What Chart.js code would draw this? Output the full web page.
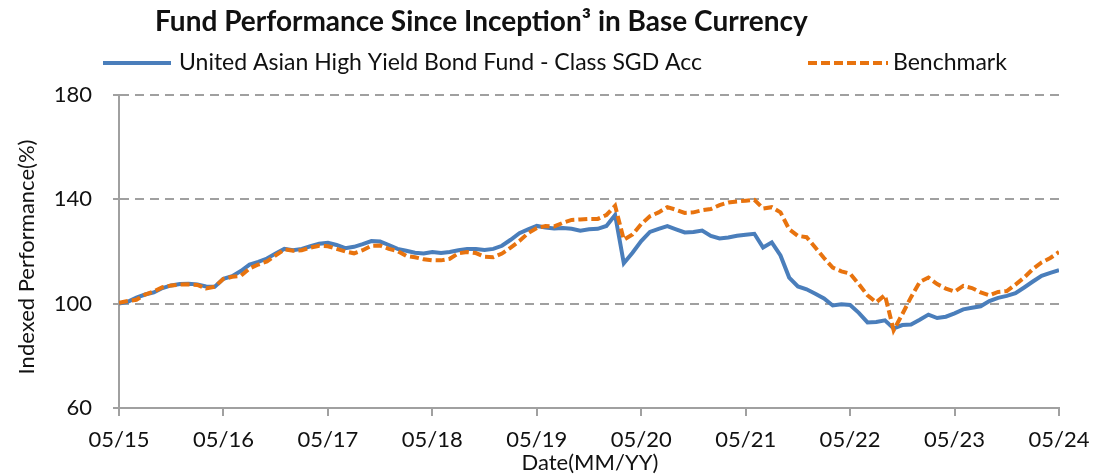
<!DOCTYPE html>
<html>
<head>
<meta charset="utf-8">
<script src="https://cdn.jsdelivr.net/npm/chart.js@4"></script>
<style>
  html, body { margin: 0; padding: 0; background: #fff; }
  #wrap { width: 1094px; height: 474px; }
</style>
</head>
<body>
<div id="wrap"><canvas id="perfChart"></canvas></div>
<script>
// tick labels, one per year (every 12 monthly points)
const tickLabels = ["05/15", "05/16", "05/17", "05/18", "05/19", "05/20", "05/21", "05/22", "05/23", "05/24"];

// monthly indexed values, 05/15 .. 05/24
const fundValues = [
  100, 100.7, 102.3, 103.5, 104.3, 106, 107, 107.5, 107.6, 107.4, 106.6, 106.5,
  109.5, 110.5, 112.5, 115, 116, 117.3, 119.2, 121, 120.5, 121, 122, 123,
  123.3, 122.5, 121.3, 121.8, 122.8, 124, 123.8, 122.5, 121, 120.3, 119.5, 119.2,
  119.8, 119.4, 119.8, 120.5, 121, 121, 120.6, 121, 122.2, 124.5, 127, 128.5,
  129.8, 129.2, 128.8, 129, 128.7, 128, 128.5, 128.7, 129.8, 134, 115.5, 119.5,
  124, 127.5, 128.7, 129.7, 128.5, 127.3, 127.5, 128, 126, 125, 125.4, 126,
  126.4, 126.8, 121.5, 123.5, 118.5, 110, 106.6, 105.5, 103.8, 102, 99.3, 99.8,
  99.5, 96.5, 92.8, 93, 93.6, 90.5, 91.8, 92, 93.8, 95.8, 94.5, 95,
  96.3, 97.8, 98.4, 99, 101, 102.2, 103, 104, 106.2, 108.5, 110.7, 111.8,
  112.8
];
const benchValues = [
  100.3, 101, 101.5, 103.5, 104.7, 106.3, 107, 107.3, 107.4, 107.2, 105.8, 106.5,
  109.5, 110.3, 110.7, 113.5, 115, 116.2, 118.5, 120.8, 120.3, 120.5, 121.5, 122.2,
  122, 121, 120, 119.3, 120.5, 122.2, 122.3, 121, 120.2, 118.3, 117.8, 117,
  116.6, 116.6, 117.2, 119.3, 119.8, 119.4, 118, 117.8, 119.2, 121.5, 124, 127,
  129, 129.8, 129.6, 131, 132.1, 132.3, 132.5, 132.5, 134, 137.5, 124.5, 126.5,
  130.5, 133.5, 135, 137, 136, 134.8, 135, 135.8, 136.3, 137.8, 138.8, 139.2,
  139.5, 139.8, 136.5, 137, 135, 128.5, 126, 125.5, 121.5, 117.5, 113.8, 112.4,
  111.5, 107.5, 103.2, 100.5, 103.3, 89.8, 96, 102.5, 108.3, 110, 107.5, 105.8,
  104.6, 106.8, 106, 104.3, 103.2, 104.5, 104.8, 107.3, 110, 113.3, 115.8, 117.5,
  119.8
];

const fundLabel = "United Asian High Yield Bond Fund - Class SGD Acc";
const benchLabel = "Benchmark";
const chartTitle = "Fund Performance Since Inception\u00B3 in Base Currency";

const FONT = "Lato, 'Open Sans', sans-serif";
const blue = "#4a7ebb";
const orange = "#e8730e";
const gridGray = "#a0a0a0";

const toPoints = arr => arr.map((v, i) => ({ x: i, y: v }));

// title, legend and axis titles drawn by hand to sit where the original has them
const decorations = {
    id: "decorations",
    afterDraw(chart) {
        const c = chart.ctx;
        c.save();
        c.fillStyle = "#111";
        c.textBaseline = "middle";

        c.font = "bold 28px " + FONT;
        c.textAlign = "left";
        c.fillText(chartTitle, 155, 22);

        // legend
        c.font = "23px " + FONT;
        c.lineWidth = 4;
        c.strokeStyle = blue;
        c.setLineDash([]);
        c.beginPath(); c.moveTo(103, 63); c.lineTo(171, 63); c.stroke();
        c.fillText(fundLabel, 179, 63);

        c.strokeStyle = orange;
        c.setLineDash([9, 4]);
        c.beginPath(); c.moveTo(808, 63); c.lineTo(888, 63); c.stroke();
        c.setLineDash([]);
        c.fillText(benchLabel, 893, 63);

        // axis titles
        c.font = "22px " + FONT;
        c.textAlign = "center";
        c.fillText("Date(MM/YY)", 590, 463);
        c.translate(27, 257);
        c.rotate(-Math.PI / 2);
        c.fillText("Indexed Performance(%)", 0, 0);
        c.restore();
    }
};

const ctx = document.getElementById("perfChart").getContext("2d");
const perfChart = new Chart(ctx, {
    type: "line",
    data: {
        datasets: [{
            label: fundLabel,
            data: toPoints(fundValues),
            borderColor: blue,
            borderWidth: 4,
            pointRadius: 0,
            tension: 0,
            order: 2
        }, {
            label: benchLabel,
            data: toPoints(benchValues),
            borderColor: orange,
            borderWidth: 4,
            borderDash: [9, 4],
            pointRadius: 0,
            tension: 0,
            order: 1   // orange sits on top of the blue line
        }]
    },
    options: {
        responsive: true,
        maintainAspectRatio: false,
        animation: false,
        layout: { padding: { left: 0, right: 35, top: 95, bottom: 0 } },
        scales: {
            x: {
                type: "linear",
                min: 0,
                max: 108,
                afterFit: s => { s.height = 66; s.paddingLeft = 0; s.paddingRight = 0; },
                border: { display: true, color: gridGray, width: 2 },
                grid: { drawOnChartArea: false, drawTicks: true, tickLength: 8, color: gridGray, lineWidth: 2 },
                ticks: {
                    stepSize: 12,
                    padding: 11,
                    maxRotation: 0,
                    color: "#111",
                    font: { family: FONT, size: 22 },
                    callback: v => tickLabels[v / 12]
                }
            },
            y: {
                min: 60,
                max: 180,
                afterFit: s => { s.width = 119; s.paddingTop = 0; s.paddingBottom = 0; },
                border: { display: true, color: gridGray, width: 2, dash: [9, 6] },
                grid: {
                    color: c => c.tick && c.tick.value === 60 ? "rgba(0,0,0,0)" : gridGray,
                    lineWidth: 2,
                    tickLength: 6,
                    tickColor: gridGray,
                    tickBorderDash: [],
                    drawTicks: true
                },
                ticks: {
                    stepSize: 40,
                    padding: 21,
                    color: "#111",
                    font: { family: FONT, size: 22 }
                }
            }
        },
        plugins: {
            legend: { display: false },
            title: { display: false },
            tooltip: { enabled: false }
        }
    },
    plugins: [decorations]
});
</script>
</body>
</html>
